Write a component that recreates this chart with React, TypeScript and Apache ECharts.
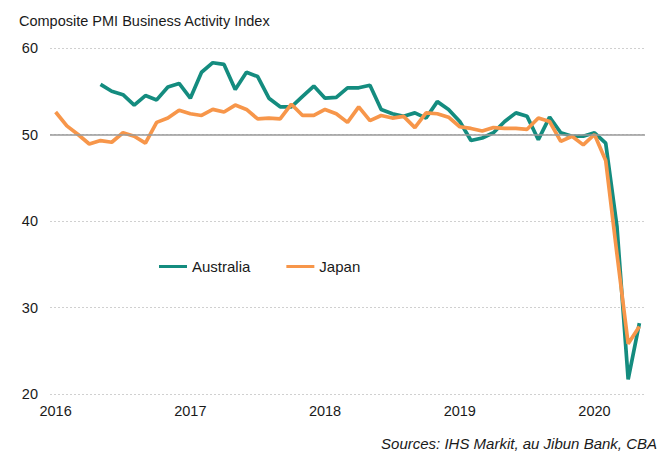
import React, { useEffect, useRef } from "react";
import * as echarts from "echarts";

const months: string[] = [];
for (let y = 2016; y <= 2020; y++) {
  for (let m = 1; m <= 12; m++) {
    if (y === 2020 && m > 5) break;
    months.push(`${y}-${m < 10 ? "0" + m : m}`);
  }
}

const australia: (number | null)[] = [
  null, null, null, null, 55.8, 55.0, 54.6, 53.4, 54.5, 54.0, 55.5, 55.9,
  54.2, 57.2, 58.3, 58.1, 55.2, 57.2, 56.7, 54.2, 53.2, 53.2, 54.4, 55.6,
  54.2, 54.3, 55.4, 55.4, 55.7, 52.9, 52.4, 52.1, 52.5, 51.9, 53.8, 52.9,
  51.5, 49.3, 49.6, 50.2, 51.5, 52.5, 52.1, 49.4, 52.0, 50.2, 49.8, 49.8,
  50.2, 49.0, 39.4, 21.7, 28.2,
];

const japan: number[] = [
  52.6, 51.0, 50.0, 48.9, 49.3, 49.1, 50.2, 49.8, 49.0, 51.4, 51.9, 52.8,
  52.4, 52.2, 52.9, 52.6, 53.4, 52.9, 51.8, 51.9, 51.8, 53.5, 52.2, 52.2,
  52.9, 52.4, 51.4, 53.2, 51.6, 52.2, 51.9, 52.1, 50.8, 52.5, 52.4, 52.0,
  50.9, 50.7, 50.4, 50.8, 50.7, 50.7, 50.6, 51.9, 51.5, 49.2, 49.8, 48.8,
  50.0, 47.0, 36.2, 25.8, 27.8,
];

const yTicks = { min: 20, max: 60, interval: 10 };

const FONT = "Liberation Sans, Arial, sans-serif";

export default function App() {
  const ref = useRef<HTMLDivElement>(null);
  useEffect(() => {
    document.body.style.margin = "0";
    const chart = echarts.init(ref.current!, null, { renderer: "svg" });
    chart.setOption({
      animation: false,
      backgroundColor: "#ffffff",
      textStyle: { fontFamily: FONT },
      title: [
        {
          text: "Composite PMI Business Activity Index",
          left: 14,
          top: 8,
          textStyle: { fontFamily: FONT, fontSize: 14.5, fontWeight: "normal", color: "#1a1a1a" },
        },
        {
          text: "Sources: IHS Markit, au Jibun Bank, CBA",
          right: 7,
          top: 431,
          textStyle: { fontFamily: FONT, fontSize: 15, fontWeight: "normal", fontStyle: "italic", color: "#1a1a1a" },
        },
      ],
      legend: {
        left: 154,
        top: 254,
        itemWidth: 28,
        itemHeight: 3,
        itemGap: 36,
        icon: "rect",
        textStyle: { fontFamily: FONT, fontSize: 15, color: "#1a1a1a" },
        data: ["Australia", "Japan"],
      },
      grid: { left: 50, right: 24, top: 48, bottom: 58 },
      xAxis: {
        type: "category",
        data: months,
        boundaryGap: true,
        axisLine: { show: false },
        axisTick: { show: false },
        axisLabel: {
          interval: (idx: number, val: string) => val.endsWith("-01"),
          formatter: (val: string) => val.slice(0, 4),
          fontFamily: FONT,
          fontSize: 14.5,
          color: "#1a1a1a",
          margin: 9,
        },
        splitLine: { show: false },
      },
      yAxis: {
        type: "value",
        min: yTicks.min,
        max: yTicks.max,
        interval: yTicks.interval,
        axisLine: { show: false },
        axisTick: { show: false },
        axisLabel: { fontFamily: FONT, fontSize: 14.5, color: "#1a1a1a", margin: 12 },
        splitLine: { show: true, lineStyle: { color: "#d0d0d0", type: [2, 2], width: 1 } },
      },
      series: [
        {
          name: "Australia",
          type: "line",
          data: australia,
          symbol: "none",
          connectNulls: false,
          lineStyle: { color: "#148c7f", width: 3.7 },
          itemStyle: { color: "#148c7f" },
          z: 3,
          markLine: {
            silent: true,
            symbol: "none",
            label: { show: false },
            lineStyle: { color: "#9a9a9a", type: "solid", width: 1.5 },
            data: [{ yAxis: 50 }],
          },
        },
        {
          name: "Japan",
          type: "line",
          data: japan,
          symbol: "none",
          lineStyle: { color: "#f7964a", width: 3.7 },
          itemStyle: { color: "#f7964a" },
          z: 4,
        },
      ],
    });
    return () => chart.dispose();
  }, []);
  return <div ref={ref} style={{ width: 669, height: 452 }} />;
}
